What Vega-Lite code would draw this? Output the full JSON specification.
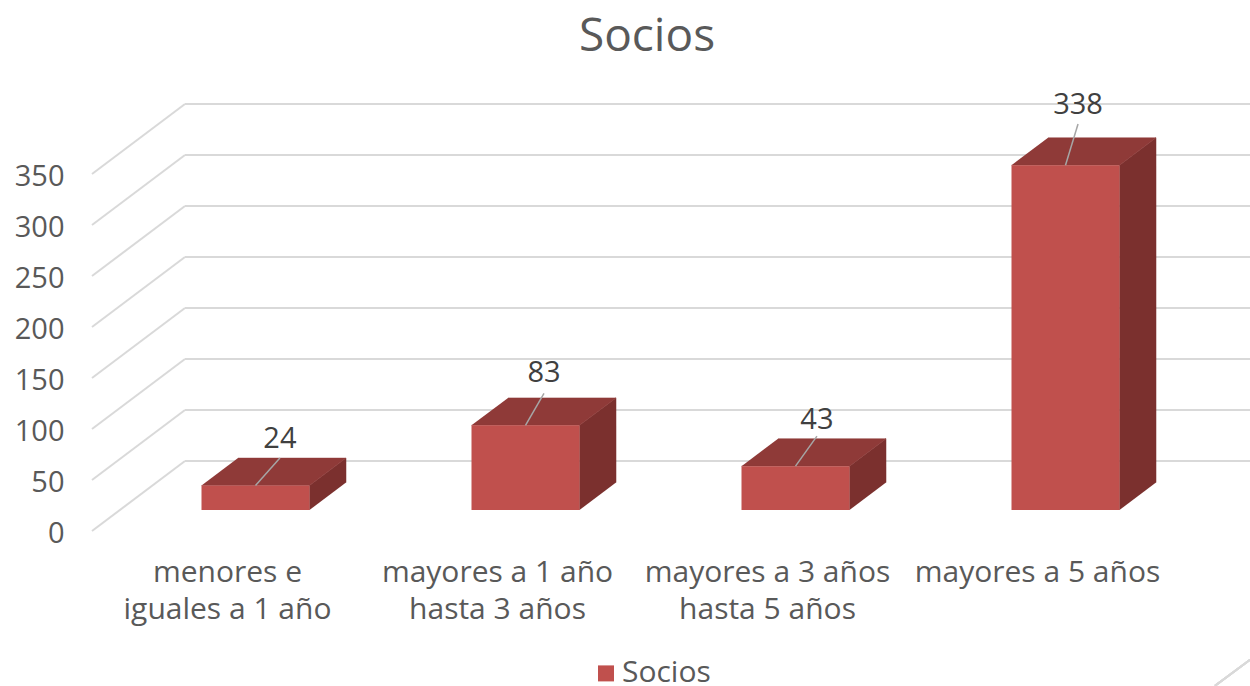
{
"$schema":"https://vega.github.io/schema/vega-lite/v6.json",
"width":1080,"height":438.6,
"autosize":{"type":"none"},
"padding":{"left":92,"top":92.4,"right":78,"bottom":155},
"background":"white",
"config":{"view":{"stroke":null},"font":"Open Sans"},
"title":{"text":"Socios","fontSize":46,"font":"Open Sans","fontWeight":"normal","color":"#595959","anchor":"middle","dx":15,"offset":30},
"datasets":{
"barras":[
{"serie":"Socios","categoria":"menores e|iguales a 1 año","pos":0.5,"valor":24,"etiqueta_pos":0.696,"etiqueta_nivel":92,"linea_nivel":71.6},
{"serie":"Socios","categoria":"mayores a 1 año|hasta 3 años","pos":1.5,"valor":83,"etiqueta_pos":1.674,"etiqueta_nivel":157,"linea_nivel":135},
{"serie":"Socios","categoria":"mayores a 3 años|hasta 5 años","pos":2.5,"valor":43,"etiqueta_pos":2.685,"etiqueta_nivel":111,"linea_nivel":93},
{"serie":"Socios","categoria":"mayores a 5 años","pos":3.5,"valor":338,"etiqueta_pos":3.652,"etiqueta_nivel":420,"linea_nivel":399}
],
"niveles":[{"nivel":0},{"nivel":50},{"nivel":100},{"nivel":150},{"nivel":200},{"nivel":250},{"nivel":300},{"nivel":350}]
},
"data":{"name":"barras"},
"layer":[
{"data":{"name":"niveles"},
 "mark":{"type":"rule","color":"#D9D9D9","strokeWidth":2,"clip":false,"y2Offset":-70},
 "encoding":{
  "x":{"datum":0,"type":"quantitative","scale":{"domain":[0,4],"nice":false,"zero":false,"padding":0},
   "axis":{"values":[0.5,1.5,2.5,3.5],"title":null,"domain":false,"ticks":false,"grid":false,"labelFontSize":30,"labelColor":"#595959","labelFont":"Open Sans","labelPadding":26,"labelLineHeight":37,"labelLimit":400,"labelOverlap":false,"labelFlush":false,"labelBound":false,"labelBaseline":"top",
   "labelExpr":"datum.value==0.5?['menores e','iguales a 1 año']:datum.value==1.5?['mayores a 1 año','hasta 3 años']:datum.value==2.5?['mayores a 3 años','hasta 5 años']:'mayores a 5 años'"}},
  "x2":{"datum":0.3444},
  "y":{"field":"nivel","type":"quantitative","scale":{"domain":[0,430],"nice":false,"zero":false},
   "axis":{"values":[0,50,100,150,200,250,300,350],"title":null,"domain":false,"ticks":false,"grid":false,"labelFontSize":29,"labelColor":"#595959","labelFont":"Open Sans","labelPadding":28,"labelOffset":2}},
  "y2":{"field":"nivel"}
 }},
{"data":{"name":"niveles"},
 "mark":{"type":"rule","color":"#D9D9D9","strokeWidth":2,"clip":false,"yOffset":-70},
 "encoding":{
  "x":{"datum":0.3444,"type":"quantitative","scale":{"domain":[0,4],"nice":false,"zero":false,"padding":0}},
  "x2":{"datum":4.3},
  "y":{"field":"nivel","type":"quantitative"}
 }},
{"mark":{"type":"rule","color":"#D9D9D9","strokeWidth":2,"clip":false},
 "encoding":{
  "x":{"datum":4.159,"type":"quantitative","scale":{"domain":[0,4],"nice":false,"zero":false,"padding":0}},
  "x2":{"datum":4.289},
  "y":{"datum":-151.8,"type":"quantitative"},
  "y2":{"datum":-126.3}
 }},
{"transform":[
  {"calculate":"[0,1,2,3]","as":"esquina"},
  {"flatten":["esquina"]},
  {"calculate":"datum.pos+0.3056+(datum.esquina>=2?0.1352:0)","as":"cx"},
  {"calculate":"20.6+(datum.esquina==1||datum.esquina==2?datum.valor:0)+(datum.esquina>=2?26.9:0)","as":"cy"}
 ],
 "mark":{"type":"line","fill":"#7B302E","stroke":"#7B302E","strokeWidth":0.5,"clip":false},
 "encoding":{
  "x":{"field":"cx","type":"quantitative","scale":{"domain":[0,4],"nice":false,"zero":false,"padding":0}},
  "y":{"field":"cy","type":"quantitative"},
  "detail":{"field":"categoria"},
  "order":{"field":"esquina","type":"quantitative"}
 }},
{"transform":[
  {"calculate":"[0,1,2,3]","as":"esquina"},
  {"flatten":["esquina"]},
  {"calculate":"datum.pos+(datum.esquina==1||datum.esquina==2?0.3056:-0.0944)+(datum.esquina>=2?0.1352:0)","as":"cx"},
  {"calculate":"20.6+datum.valor+(datum.esquina>=2?26.9:0)","as":"cy"}
 ],
 "mark":{"type":"line","fill":"#8F3A38","stroke":"#8F3A38","strokeWidth":0.5,"clip":false},
 "encoding":{
  "x":{"field":"cx","type":"quantitative","scale":{"domain":[0,4],"nice":false,"zero":false,"padding":0}},
  "y":{"field":"cy","type":"quantitative"},
  "detail":{"field":"categoria"},
  "order":{"field":"esquina","type":"quantitative"}
 }},
{"mark":{"type":"bar","width":108,"xOffset":28.5,"yOffset":-21,"y2Offset":-21,"clip":false},
 "encoding":{
  "x":{"field":"pos","type":"quantitative","scale":{"domain":[0,4],"nice":false,"zero":false,"padding":0}},
  "y":{"field":"valor","type":"quantitative"},
  "y2":{"datum":0},
  "color":{"field":"serie","type":"nominal","scale":{"domain":["Socios"],"range":["#C0504D"]},
   "legend":{"title":null,"orient":"none","legendX":499,"legendY":566,"symbolType":"square","symbolSize":256,"labelFontSize":30,"labelColor":"#595959","labelFont":"Open Sans","symbolStrokeWidth":0,"labelOffset":1}}
 }},
{"mark":{"type":"rule","color":"#A6A6A6","strokeWidth":1.5,"xOffset":28.5,"yOffset":-21,"x2Offset":0,"y2Offset":0},
 "encoding":{
  "x":{"field":"pos","type":"quantitative","scale":{"domain":[0,4],"nice":false,"zero":false,"padding":0}},
  "x2":{"field":"etiqueta_pos"},
  "y":{"field":"valor","type":"quantitative"},
  "y2":{"field":"linea_nivel"}
 }},
{"mark":{"type":"text","fontSize":29,"font":"Open Sans","color":"#404040","align":"center","baseline":"middle","dy":2},
 "encoding":{
  "x":{"field":"etiqueta_pos","type":"quantitative","scale":{"domain":[0,4],"nice":false,"zero":false,"padding":0}},
  "y":{"field":"etiqueta_nivel","type":"quantitative"},
  "text":{"field":"valor","type":"quantitative"}
 }}
]
}
